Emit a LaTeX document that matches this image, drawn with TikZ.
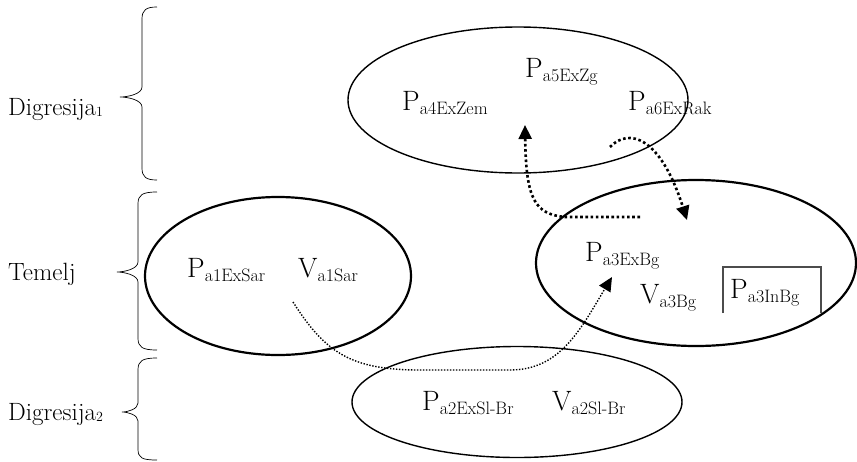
\documentclass[tikz,border=0pt]{standalone}
\usetikzlibrary{shapes.geometric,arrows.meta}
\newcommand{\mainfs}{\fontsize{28}{32}\selectfont}
\newcommand{\sidefs}{\fontsize{25}{29}\selectfont}
\newcommand{\subx}[1]{\raisebox{-4pt}{\fontsize{18}{20}\selectfont #1}}
\newcommand{\subd}[1]{\raisebox{-1pt}{\fontsize{14}{16}\selectfont #1}}
\begin{document}
\begin{tikzpicture}[x=1pt,y=-1pt,
  oval/.style={draw,ellipse,line width=#1,inner sep=0pt},
  lbl/.style={anchor=base west,inner sep=0pt,font=\mainfs},
  side/.style={anchor=base west,inner sep=0pt,font=\sidefs},
  brc/.style={line width=0.7pt},
  tip/.style={-{Triangle[length=14pt,width=13pt]}},
  thickdot/.style={tip,line width=2.6pt,dash pattern=on 2.6pt off 2.6pt},
  thindot/.style={tip,line width=1.4pt,dash pattern=on 1.4pt off 1.6pt}]
\useasboundingbox (0,0) rectangle (857,461);
% ellipses
\node[oval=1.4pt,minimum width=340pt,minimum height=146pt] (top) at (518,100) {};
\node[oval=2.2pt,minimum width=266pt,minimum height=158pt] (left) at (278,276) {};
\node[oval=2.2pt,minimum width=320pt,minimum height=166pt] (right) at (696,263) {};
\node[oval=1.4pt,minimum width=330pt,minimum height=111pt] (bottom) at (517,402) {};
% labels in top ellipse
\node[lbl] (p5) at (525,77) {P\subx{a5ExZg}};
\node[lbl] (p4) at (402,110) {P\subx{a4ExZem}};
\node[lbl] (p6) at (628,110) {P\subx{a6ExRak}};
% left ellipse
\node[lbl] (p1) at (187,277) {P\subx{a1ExSar}};
\node[lbl] (v1) at (298,277) {V\subx{a1Sar}};
% right ellipse
\node[lbl] (p3) at (585,261) {P\subx{a3ExBg}};
\node[lbl] (v3) at (640,303) {V\subx{a3Bg}};
\node[lbl] (p3i) at (730,298) {P\subx{a3InBg}};
\draw[line width=1.2pt,draw=black!70] (723,313) -- (723,267) -- (821,267) -- (821,313);
% bottom ellipse
\node[lbl] (p2) at (422,410) {P\subx{a2ExSl-Br}};
\node[lbl] (v2) at (552,410) {V\subx{a2Sl-Br}};
% side labels
\node[side] (d1) at (8,115) {Digresija\subd{1}};
\node[side] (tm) at (8,280) {Temelj};
\node[side] (d2) at (8,420) {Digresija\subd{2}};
% braces
\draw[brc] (157,7) .. controls (146,7) and (142,10) .. (142,19) -- (142,87)
  .. controls (142,94) and (128,97) .. (120,97) .. controls (128,97) and (142,100) .. (142,107)
  -- (142,168) .. controls (142,177) and (146,180) .. (157,180);
\draw[brc] (157,192) .. controls (142,192) and (138,195) .. (138,204) -- (138,262)
  .. controls (138,269) and (124,272) .. (117,272) .. controls (124,272) and (138,275) .. (138,282)
  -- (138,338) .. controls (138,347) and (142,350) .. (157,350);
\draw[brc] (157,358) .. controls (142,358) and (138,361) .. (138,370) -- (138,403)
  .. controls (138,409) and (128,412) .. (122,412) .. controls (128,412) and (138,415) .. (138,421)
  -- (138,449) .. controls (138,458) and (142,460) .. (157,460);
% arrows
\coordinate (a1s) at (640,217);
\coordinate (a1e) at (525,125);
\coordinate (a2s) at (610,147);
\coordinate (a2e) at (687,220);
\coordinate (a3s) at (293,302);
\coordinate (a3e) at (612,277);
\draw[thickdot] (a1s) -- (565,217) .. controls (535,214) and (526,200) .. (a1e);
\draw[thickdot] (a2s) .. controls (628,128) and (660,135) .. (a2e);
\draw[thindot] (a3s) .. controls (325,352) and (350,370) .. (420,370) -- (510,370)
  .. controls (560,370) and (580,330) .. (a3e);
\end{tikzpicture}
\end{document}
